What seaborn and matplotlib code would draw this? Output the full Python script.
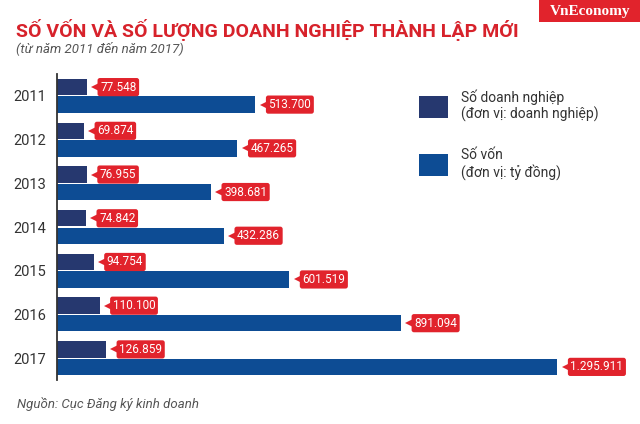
import matplotlib
matplotlib.use("Agg")
import matplotlib.pyplot as plt
import matplotlib.transforms as mtrans
from matplotlib.patches import Rectangle
import seaborn as sns
import pandas as pd

years = ["2011", "2012", "2013", "2014", "2015", "2016", "2017"]
so_doanh_nghiep = [77548, 69874, 76955, 74842, 94754, 110100, 126859]
so_von = [513700, 467265, 398681, 432286, 601519, 891094, 1295911]
series_labels = ["Số doanh nghiệp\n(đơn vị: doanh nghiệp)", "Số vốn\n(đơn vị: tỷ đồng)"]
series_colors = ["#26386f", "#0d4c94"]
title = "SỐ VỐN VÀ SỐ LƯỢNG DOANH NGHIỆP THÀNH LẬP MỚI"
subtitle = "(từ năm 2011 đến năm 2017)"
source = "Nguồn: Cục Đăng ký kinh doanh"
brand = "VnEconomy"

RED = "#e1232c"

df = pd.DataFrame({
    "year": years * 2,
    "value": so_doanh_nghiep + so_von,
    "series": [series_labels[0]] * len(years) + [series_labels[1]] * len(years),
})

sns.set_theme(style="white")
plt.rcParams["font.family"] = ["Roboto", "DejaVu Sans"]

fig = plt.figure(figsize=(6.4, 4.24), dpi=100)
ax = fig.add_axes([57 / 640, 44 / 424, 564 / 640, 306 / 424])

sns.barplot(data=df, y="year", x="value", hue="series", orient="h",
            palette=series_colors, saturation=1, width=0.8, gap=0.06,
            linewidth=0, ax=ax, legend=True)

ax.set_xlim(0, 1461000)
ax.set_ylim(len(years) - 0.5, -0.5)
ax.set_xlabel("")
ax.set_ylabel("")
ax.set_xticks([])
for s in ["top", "right", "bottom"]:
    ax.spines[s].set_visible(False)
ax.spines["left"].set_color("#333333")
ax.spines["left"].set_linewidth(1.3)
ax.tick_params(axis="y", length=0, pad=8, labelsize=10.5, labelcolor="#333333")

# value labels
values_by_series = [so_doanh_nghiep, so_von]
marker_tr = mtrans.offset_copy(ax.transData, fig=fig, x=6, y=0, units="points")
for container, vals in zip(ax.containers, values_by_series):
    for bar, v in zip(container, vals):
        yc = bar.get_y() + bar.get_height() / 2
        xe = bar.get_width()
        ax.plot([xe], [yc], marker="<", markersize=6, color=RED,
                markeredgewidth=0, transform=marker_tr, clip_on=False)
        ax.annotate(f"{v:,}".replace(",", "."), xy=(xe, yc), xytext=(9.5, 0),
                    textcoords="offset points", ha="left", va="center",
                    fontsize=8.5, color="white", annotation_clip=False,
                    bbox=dict(boxstyle="round,pad=0.22,rounding_size=0.2",
                              fc=RED, ec="none"))

# legend
handles, labels = ax.get_legend_handles_labels()
ax.legend(handles, labels, loc="upper left",
          bbox_to_anchor=(419 / 640, (424 - 89) / 424),
          bbox_transform=fig.transFigure, frameon=False,
          handlelength=2.1, handleheight=2.1, handletextpad=0.95,
          labelspacing=1.85, borderpad=0, borderaxespad=0,
          fontsize=10, labelcolor="#333333", title=None)

# titles
fig.text(16 / 640, 1 - 37 / 424, title, fontsize=14, fontweight="bold",
         color="#d7222b", ha="left", va="baseline")
fig.text(16 / 640, 1 - 52 / 424, subtitle, fontsize=9.5, style="italic",
         color="#555555", ha="left", va="baseline")
fig.text(17 / 640, 1 - 408 / 424, source, fontsize=9.5, style="italic",
         color="#555555", ha="left", va="baseline")

# brand tag
fig.patches.append(Rectangle((539 / 640, 1 - 22 / 424), 101 / 640, 22 / 424,
                             transform=fig.transFigure, fc=RED, ec="none"))
fig.text(590 / 640, 1 - 11 / 424, brand, fontsize=11, fontweight="bold",
         family=["Liberation Serif", "DejaVu Serif"], color="white",
         ha="center", va="center")

fig.savefig("out.png", dpi=100, facecolor="white")
